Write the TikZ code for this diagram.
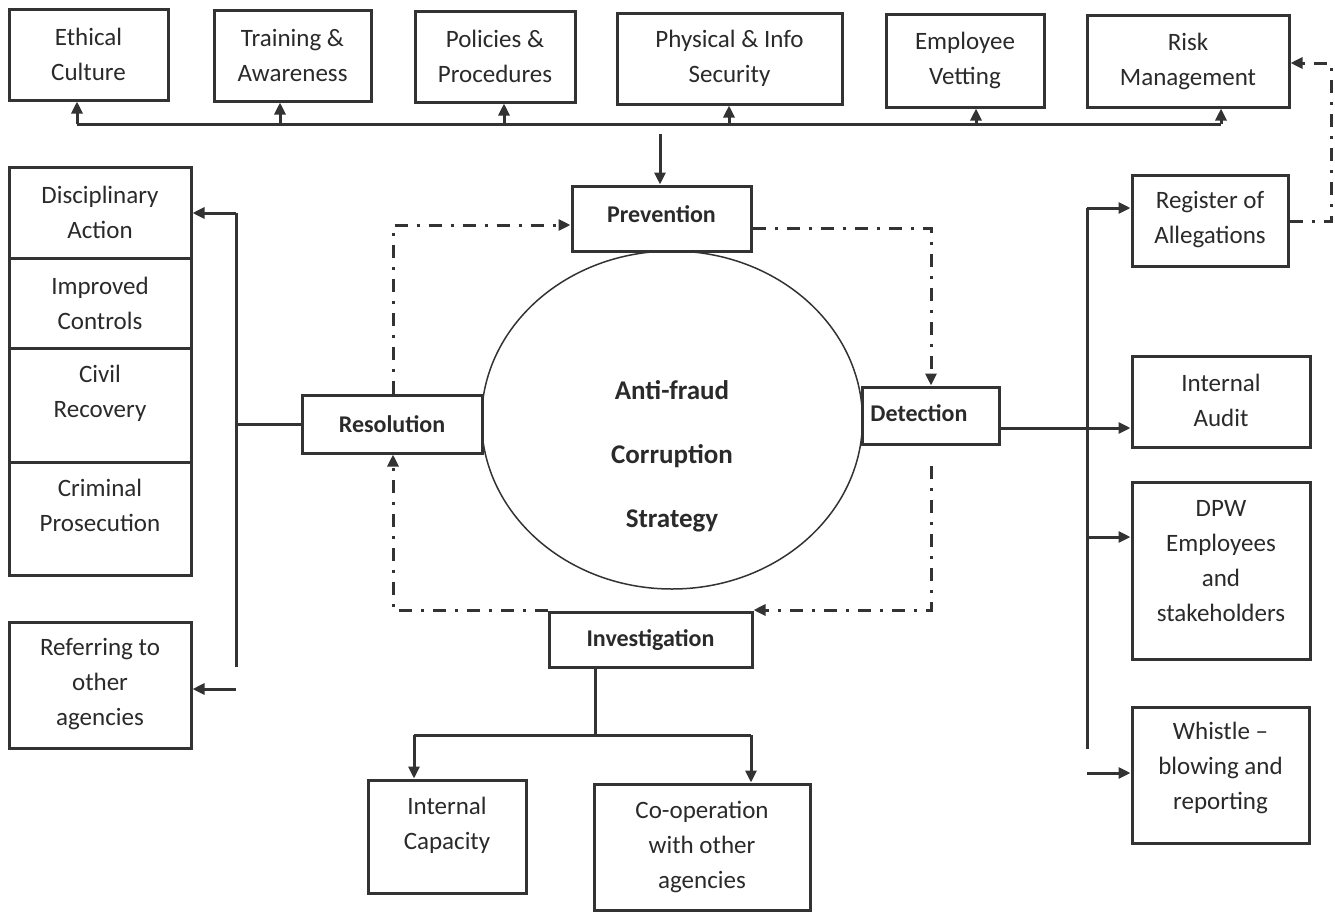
\documentclass[tikz,border=0pt]{standalone}
\usepackage{fontspec}
\setmainfont{Carlito}
\usetikzlibrary{arrows.meta,shapes.geometric}
\definecolor{ink}{HTML}{2A2A2A}
\definecolor{lineink}{HTML}{333333}
\newcommand{\mybox}[7]{%
  \node[box, minimum width=#4pt, minimum height=#5pt] (#1) at (#2,#3) {};
  \node[lbl] (#1-t) at (#2,#6) {#7};}
\begin{document}
\begin{tikzpicture}[x=1pt,y=-1pt,
  box/.style={draw=lineink, line width=3pt, rectangle, inner sep=0pt, fill=white},
  lbl/.style={text=ink, font=\fontsize{25}{35}\selectfont, align=center, inner sep=0pt},
  blbl/.style={text=ink, font=\fontsize{24}{35}\selectfont\bfseries, align=center, inner sep=0pt},
  line/.style={draw=lineink, line width=3pt},
  arr/.style={line, -{Triangle[length=12pt,width=11pt]}},
  dd/.style={draw=lineink, line width=3pt, dash pattern=on 13pt off 9pt on 3pt off 9pt},
  ddarr/.style={dd, -{Triangle[length=12pt,width=11pt]}}
]
\useasboundingbox (0,0) rectangle (1335,913);

% top row
\mybox{eth}{88.5}{54.5}{159}{91}{54.5}{Ethical\\Culture}
\mybox{tra}{292.5}{55.5}{157}{91}{55.5}{Training \&\\Awareness}
\mybox{pol}{495}{56.5}{160}{91}{56.5}{Policies \&\\Procedures}
\mybox{phy}{729.5}{58.5}{225}{91}{58.5}{Physical \& Info\\Security}
\mybox{emp}{965}{60.5}{158}{93}{60.5}{Employee\\Vetting}
\mybox{risk}{1188}{61}{202}{92}{61}{Risk\\Management}

% core
\node[draw=lineink, line width=1.5pt, ellipse, minimum width=381pt, minimum height=338pt, inner sep=0pt] (core) at (672,420) {};
\node[text=ink, font=\fontsize{27}{64}\selectfont\bfseries, align=center, inner sep=0pt] (core-t) at (672,456) {Anti-fraud\\Corruption\\Strategy};

% four phases
\node[box, minimum width=179pt, minimum height=65pt] (pre) at (661.5,218.5) {};
\node[blbl] (pre-t) at (661.5,214) {Prevention};
\node[box, minimum width=137pt, minimum height=57pt] (det) at (930.5,415.5) {};
\node[blbl] (det-t) at (919,413) {Detection};
\node[box, minimum width=180pt, minimum height=58pt] (res) at (392,424) {};
\node[blbl] (res-t) at (392,424) {Resolution};
\node[box, minimum width=203pt, minimum height=55pt] (inv) at (650.5,639.5) {};
\node[blbl] (inv-t) at (650.5,640) {Investigation};

% right column
\mybox{reg}{1210}{220.5}{156}{91}{220}{Register of\\Allegations}
\mybox{aud}{1221}{401.5}{178}{91}{400.5}{Internal\\Audit}
\mybox{dpw}{1221}{570.5}{178}{177}{561}{DPW\\Employees\\and\\stakeholders}
\mybox{whi}{1220.5}{775}{177}{136}{768}{Whistle --\\blowing and\\reporting}

% left column
\mybox{dis}{100}{212.5}{182}{91}{212.5}{Disciplinary\\Action}
\mybox{imp}{100}{303}{182}{90}{303}{Improved\\Controls}
\mybox{civ}{100}{405}{182}{114}{393.5}{Civil\\Recovery}
\mybox{cri}{100}{518.5}{182}{113}{505.5}{Criminal\\Prosecution}
\mybox{ref}{100}{685}{182}{126}{684}{Referring to\\other\\agencies}

% bottom
\mybox{cap}{447}{836.5}{158}{113}{825.5}{Internal\\Capacity}
\mybox{coop}{702}{847}{216}{126}{847}{Co-operation\\with other\\agencies}

% top bus
\coordinate (b1) at (77,124);
\coordinate (b2) at (280,124);
\coordinate (b3) at (504,124);
\coordinate (b4) at (729,124);
\coordinate (b5) at (976,124);
\coordinate (b6) at (1221,124);
\draw[line] (b1) -- (b6);
\draw[arr] (b1) -- (b1 |- eth.south);
\draw[arr] (b2) -- (b2 |- tra.south);
\draw[arr] (b3) -- (b3 |- pol.south);
\draw[arr] (b4) -- (b4 |- phy.south);
\draw[arr] (b5) -- (b5 |- emp.south);
\draw[arr] (b6) -- (b6 |- risk.south);
\coordinate (pv) at (660,134);
\draw[arr] (pv) -- (pv |- pre.north);

% dash-dot cycle
\coordinate (lt) at (393,225);
\coordinate (rt) at (931,228);
\coordinate (ds) at (931,466);
\coordinate (rb) at (931,610);
\coordinate (lb) at (393,610);
\draw[ddarr] (res.north -| lt) -- (lt) -- (lt -| pre.west);
\draw[ddarr] (rt -| pre.east) -- (rt) -- (rt |- det.north);
\draw[ddarr] (ds) -- (rb) -- (rb -| inv.east);
\draw[ddarr] (lb -| inv.west) -- (lb) -- (lb |- res.south);

% register to risk
\coordinate (rr1) at (1331,221);
\coordinate (rr2) at (1331,63);
\draw[ddarr] (reg.east |- rr1) -- (rr1) -- (rr2) -- (rr2 -| risk.east);

% right bus
\coordinate (rbT) at (1087,208);
\coordinate (rbB) at (1087,749);
\coordinate (da) at (1087,428);
\coordinate (dp) at (1087,537);
\coordinate (wh) at (1087,773);
\draw[line] (rbT) -- (rbB);
\draw[arr] (rbT) -- (rbT -| reg.west);
\draw[arr] (da -| det.east) -- (da -| aud.west);
\draw[arr] (dp) -- (dp -| dpw.west);
\draw[arr] (wh) -- (wh -| whi.west);

% left bus
\coordinate (lbT) at (236,213);
\coordinate (lbB) at (236,667);
\coordinate (rf) at (236,689);
\draw[line] (lbB) -- (lbT);
\draw[arr] (lbT) -- (lbT -| dis.east);
\draw[line] (res.west) -- (res.west -| lbT);
\draw[arr] (rf) -- (rf -| ref.east);

% investigation split
\coordinate (ij) at (595,735);
\coordinate (ic) at (414,735);
\coordinate (io) at (751,735);
\draw[line] (inv.south -| ij) -- (ij);
\draw[line] (ic) -- (io);
\draw[arr] (ic) -- (ic |- cap.north);
\draw[arr] (io) -- (io |- coop.north);
\end{tikzpicture}
\end{document}
